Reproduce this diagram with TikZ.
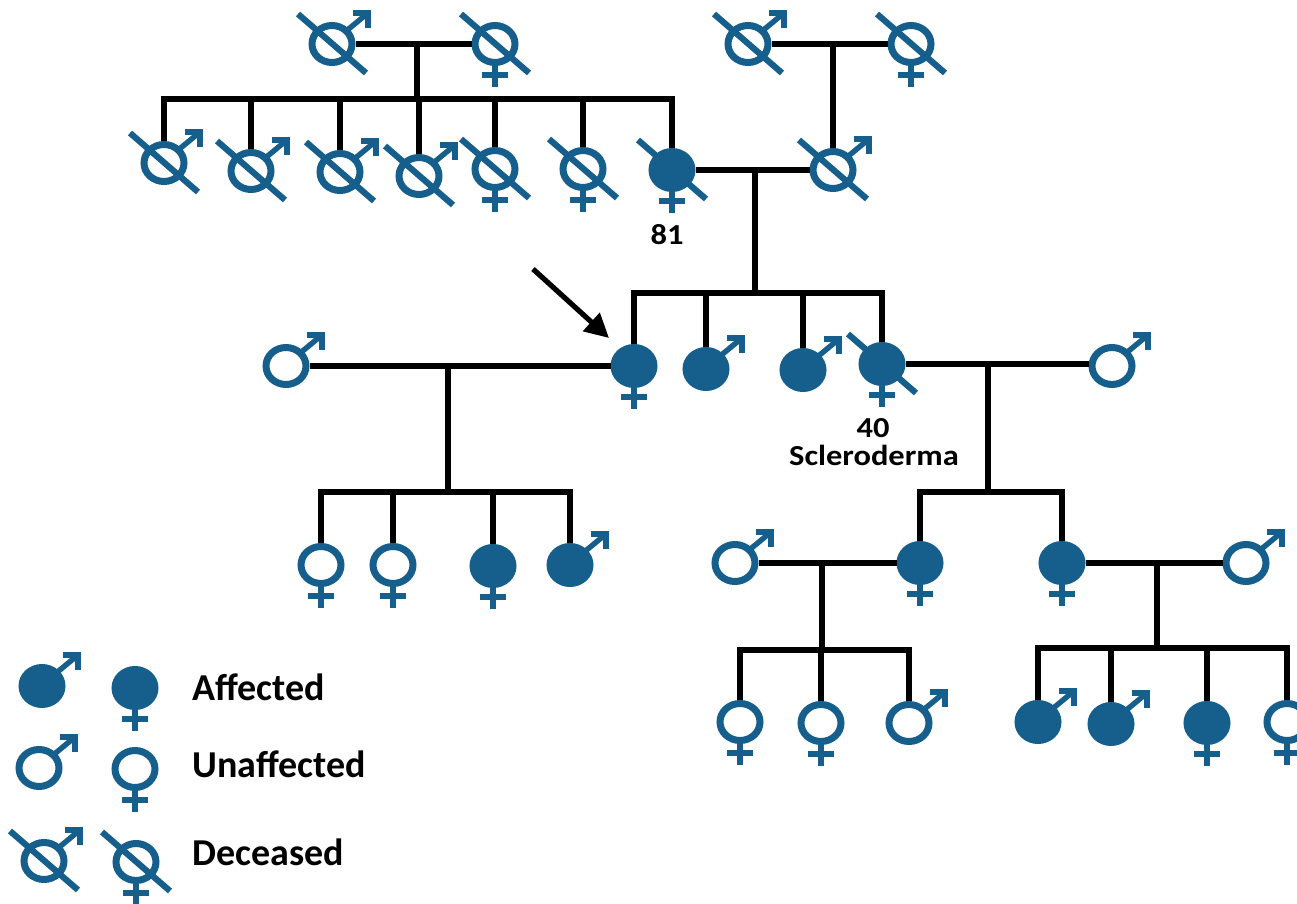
\documentclass[tikz,border=0pt]{standalone}
\usepackage{fontspec}
\setmainfont{Carlito}
\usetikzlibrary{shapes.geometric,calc,arrows.meta}
\definecolor{pblue}{RGB}{22,94,140}
\newcommand\maleArrow[1]{%
  \draw[symline] ($(#1)+(13,-12)$) -- ($(#1)+(36,-31)$);
  \draw[symline,line join=miter] ($(#1)+(21,-31)$) -- ($(#1)+(36,-31)$) -- ($(#1)+(36,-16)$);}
\newcommand\femCross[1]{%
  \draw[symline] ($(#1)+(0,20)$) -- ($(#1)+(0,43)$);
  \draw[symline] ($(#1)+(-13,31)$) -- ($(#1)+(13,31)$);}
\newcommand\decSlash[1]{\draw[slashline] ($(#1)+(-34,-30)$) -- ($(#1)+(34,29)$);}
\begin{document}
\begin{tikzpicture}[x=0.5pt,y=-0.5pt,
  ind/.style={ellipse,draw=pblue,line width=3.5pt,minimum width=20pt,minimum height=18.5pt,inner sep=0pt},
  aff/.style={ind,fill=pblue},
  un/.style={ind,fill=white},
  symline/.style={draw=pblue,line width=2.7pt},
  slashline/.style={draw=pblue,line width=3.1pt},
  conn/.style={draw=black,line width=3.1pt,line join=miter},
  lbl/.style={font=\bfseries\fontsize{14.5pt}{17pt}\selectfont,inner sep=0pt,xscale=1.12},
  leg/.style={font=\bfseries\fontsize{19pt}{22pt}\selectfont,anchor=base west,inner sep=0pt}]
\useasboundingbox (0,0) rectangle (1297,904);
\fill[white] (0,0) rectangle (1297,904);

% ---------- Generation I
\node[un] (A1) at (332,44) {};
\node[un] (A2) at (495,44) {};
\node[un] (B1) at (748,44) {};
\node[un] (B2) at (911,44) {};
\coordinate (mA) at (417,44);
\coordinate (sA) at (417,99);
\coordinate (mB) at (833,44);

% ---------- Generation II
\node[un] (C1) at (164,163) {};
\node[un] (C2) at (251,171) {};
\node[un] (C3) at (340,172) {};
\node[un] (C4) at (419,176) {};
\node[un] (C5) at (495,169) {};
\node[un] (C6) at (583,169) {};
\node[aff] (C7) at (672,170) {};
\node[un] (D) at (833,170) {};
\coordinate (mCD) at (755,170);
\coordinate (sCD) at (755,293);

% ---------- Generation III
\node[un] (S1) at (286,366) {};
\node[aff] (P) at (634,366) {};
\node[aff] (E1) at (706,369) {};
\node[aff] (E2) at (803,370) {};
\node[aff] (E3) at (882,364) {};
\node[un] (S2) at (1112,366) {};
\coordinate (mP) at (448,366);
\coordinate (sP) at (448,492);
\coordinate (mE) at (988,366);
\coordinate (sE) at (988,492);

% ---------- Generation IV
\node[un] (G1) at (321,565) {};
\node[un] (G2) at (393,565) {};
\node[aff] (G3) at (493,566) {};
\node[aff] (G4) at (570,565) {};
\node[un] (S3) at (735,563) {};
\node[aff] (H1) at (920,563) {};
\node[aff] (H2) at (1062,563) {};
\node[un] (S4) at (1246,563) {};
\coordinate (mH1) at (822,563);
\coordinate (sH1) at (822,650);
\coordinate (mH2) at (1157,563);
\coordinate (sH2) at (1157,648);

% ---------- Generation V
\node[un] (I1) at (740,722) {};
\node[un] (I2) at (821,723) {};
\node[un] (I3) at (909,723) {};
\node[aff] (J1) at (1038,722) {};
\node[aff] (J2) at (1111,724) {};
\node[aff] (J3) at (1207,723) {};
\node[un] (J4) at (1287,722) {};

% ---------- Legend
\node[aff] (L1) at (42,686) {};
\node[aff] (L2) at (135,688) {};
\node[un] (L3) at (39,768) {};
\node[un] (L4) at (135,769) {};
\node[un] (L5) at (44,861) {};
\node[un] (L6) at (136,862) {};
\node[leg] (tAff) at (192,700) {Affected};
\node[leg] (tUn) at (192,777) {Unaffected};
\node[leg] (tDec) at (192,865) {Deceased};

% ---------- Sex and status marks
\foreach \m in {A1,B1,C1,C2,C3,C4,D,E1,E2,S1,S2,G4,S3,S4,I3,J1,J2,L1,L3,L5} {\maleArrow{\m}}
\foreach \f in {A2,B2,C5,C6,C7,P,E3,G1,G2,G3,H1,H2,I1,I2,J3,J4,L2,L4,L6} {\femCross{\f}}
\foreach \d in {A1,A2,B1,B2,C1,C2,C3,C4,C5,C6,C7,D,E3,L5,L6} {\decSlash{\d}}

% ---------- Connectors
\draw[conn] (A1.east) -- (A2.west);
\draw[conn] (mA) -- (sA);
\draw[conn] (C1.north) -- (C1.north |- sA) -- (C7.north |- sA) -- (C7.north);
\foreach \c in {C2,C3,C4,C5,C6} {\draw[conn] (\c.north) -- (\c.north |- sA);}
\draw[conn] (B1.east) -- (B2.west);
\draw[conn] (mB) -- (D.north);
\draw[conn] (C7.east) -- (D.west);
\draw[conn] (mCD) -- (sCD);
\draw[conn] (P.north) -- (P.north |- sCD) -- (E3.north |- sCD) -- (E3.north);
\foreach \c in {E1,E2} {\draw[conn] (\c.north) -- (\c.north |- sCD);}
\draw[conn] (S1.east) -- (P.west);
\draw[conn] (mP) -- (sP);
\draw[conn] (G1.north) -- (G1.north |- sP) -- (G4.north |- sP) -- (G4.north);
\foreach \c in {G2,G3} {\draw[conn] (\c.north) -- (\c.north |- sP);}
\draw[conn] (E3.east) -- (E3.east -| S2.west);
\draw[conn] (mE) -- (sE);
\draw[conn] (H1.north) -- (H1.north |- sE) -- (H2.north |- sE) -- (H2.north);
\draw[conn] (S3.east) -- (H1.west);
\draw[conn] (mH1) -- (sH1);
\draw[conn] (I1.north) -- (I1.north |- sH1) -- (I3.north |- sH1) -- (I3.north);
\draw[conn] (I2.north) -- (I2.north |- sH1);
\draw[conn] (H2.east) -- (S4.west);
\draw[conn] (mH2) -- (sH2);
\draw[conn] (J1.north) -- (J1.north |- sH2) -- (J4.north |- sH2) -- (J4.north);
\foreach \c in {J2,J3} {\draw[conn] (\c.north) -- (\c.north |- sH2);}

% ---------- Proband arrow
\coordinate (arrS) at (533,269);
\coordinate (arrE) at (609,338);
\draw[draw=black,line width=2.6pt,-{Triangle[length=12pt,width=12pt]}] (arrS) -- (arrE);

% ---------- Labels
\node[lbl] (t81) at (667,235) {81};
\node[lbl] (t40) at (873,428) {40};
\node[lbl] (tScl) at (874,455) {Scleroderma};
\end{tikzpicture}
\end{document}
